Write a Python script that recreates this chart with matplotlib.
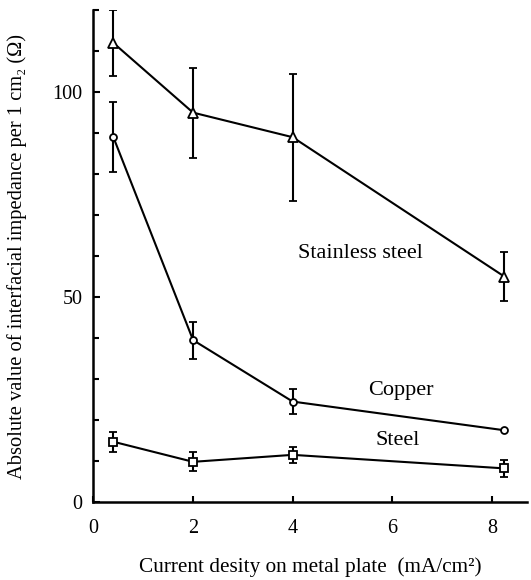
import matplotlib
matplotlib.use("Agg")
import matplotlib.pyplot as plt
from matplotlib.ticker import MultipleLocator, FixedLocator

plt.rcParams['font.family'] = ['Liberation Serif', 'DejaVu Serif']

x = [0.4, 2.0, 4.0, 8.25]
stainless = [112, 95, 89, 55]
stainless_err = [8, 11, 15.5, 6]
copper = [89, 39.5, 24.5, 17.5]
copper_err = [8.6, 4.5, 3, 0]
steel = [14.7, 9.8, 11.5, 8.2]
steel_err = [2.4, 2.3, 2.0, 2.1]

x_ticks = [0, 2, 4, 6, 8]
y_ticks = [0, 50, 100]

fig = plt.figure(figsize=(5.31, 5.80), dpi=100)
ax = fig.add_axes([0.176, 0.1345, 0.816, 0.848])

common = dict(color='black', lw=1.5, elinewidth=1.5, capsize=2.8, capthick=1.5,
              markerfacecolor='white', markeredgecolor='black', markeredgewidth=1.3)
ax.errorbar(x, stainless, yerr=stainless_err, marker='^', ms=7, **common)
ax.errorbar(x, copper, yerr=copper_err, marker='o', ms=5, **common)
ax.errorbar(x, steel, yerr=steel_err, marker='s', ms=5.5, **common)

ax.set_xlim(0, 8.7)
ax.set_ylim(0, 120)
ax.spines['top'].set_visible(False)
ax.spines['right'].set_visible(False)
for s in ('left', 'bottom'):
    ax.spines[s].set_linewidth(1.8)

ax.xaxis.set_major_locator(FixedLocator(x_ticks))
ax.yaxis.set_major_locator(FixedLocator(y_ticks))
ax.yaxis.set_minor_locator(MultipleLocator(10))
ax.tick_params(axis='both', which='major', direction='in', length=5, width=1.5,
               labelsize=14.5, pad=8)
ax.tick_params(axis='y', which='minor', direction='in', length=4, width=1.5)
ax.tick_params(axis='x', which='major', length=4, pad=12)

ax.text(5.37, 60.7, 'Stainless steel', fontsize=16, ha='center', va='center')
ax.text(6.18, 27.3, 'Copper', fontsize=16, ha='center', va='center')
ax.text(6.1, 15.1, 'Steel', fontsize=16, ha='center', va='center')

ax.set_xlabel('Current desity on metal plate  (mA/cm\u00b2)', fontsize=15.3, labelpad=14)
ax.set_ylabel('Absolute value of interfacial impedance per 1 cm\u2082 (\u03a9)',
              fontsize=14.8, labelpad=18)

fig.savefig('out.png', dpi=100)
